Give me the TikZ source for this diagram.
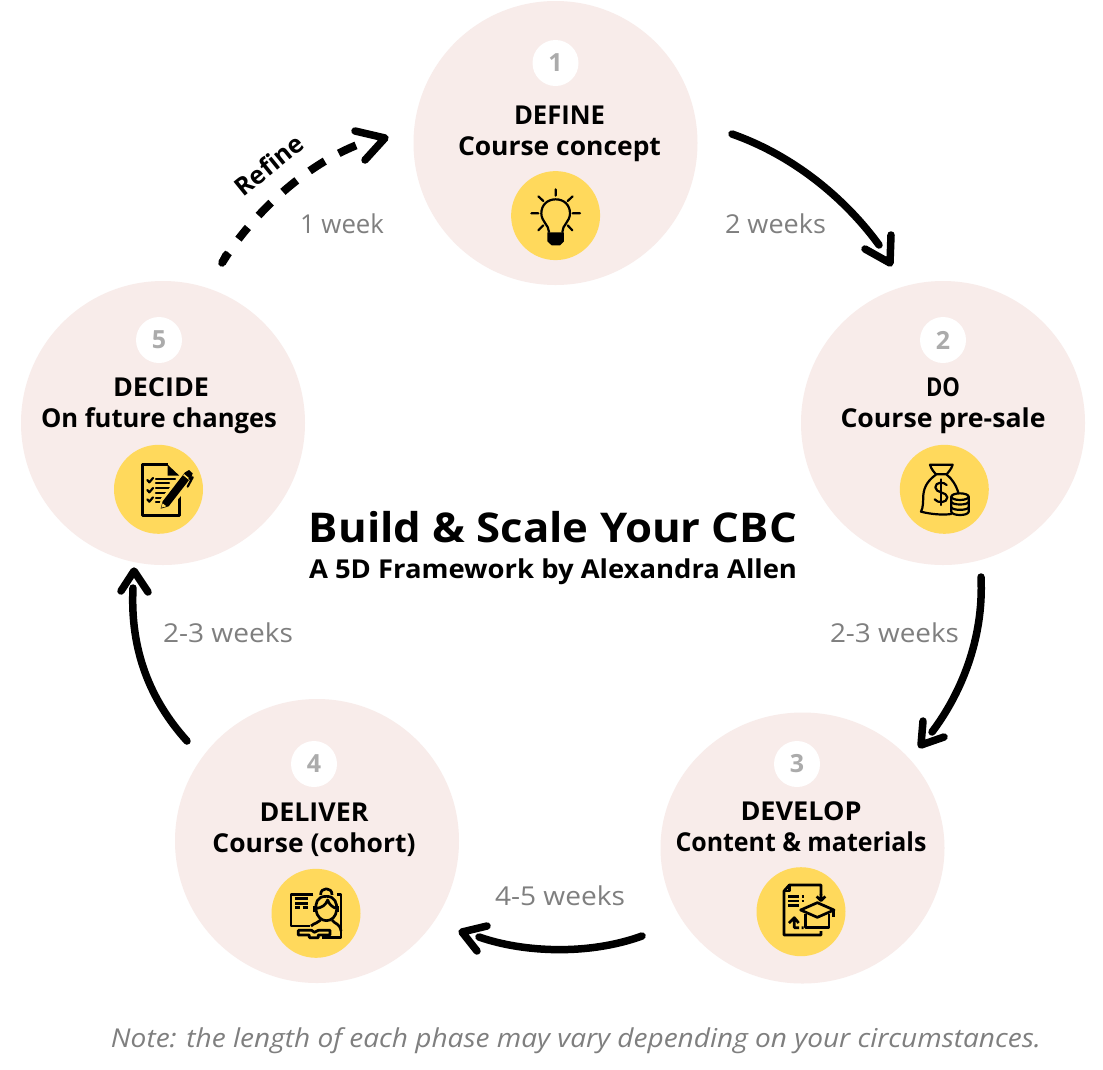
\documentclass[tikz,border=0pt]{standalone}
\usepackage{fontspec}
\setmainfont{Open Sans}
\usetikzlibrary{arrows.meta,shapes.geometric}
\newcommand{\fitw}[2]{\resizebox{#1pt}{\height}{#2}}
\definecolor{blush}{HTML}{F8ECEA}
\definecolor{sun}{HTML}{FFD95C}
\definecolor{ink}{HTML}{000000}
\definecolor{weekgray}{HTML}{7F7F7F}
\definecolor{numgray}{HTML}{ABABAB}
\tikzset{
  x=1pt,y=-1pt,
  phase/.style={circle,fill=blush,minimum size=284pt,inner sep=0pt},
  phaseflat/.style={ellipse,fill=blush,minimum width=284pt,minimum height=271pt,inner sep=0pt},
  badge/.style={circle,fill=white,minimum size=46pt,inner sep=0pt,text=numgray,font=\fontsize{25}{25}\selectfont\bfseries},
  iconbg/.style={circle,fill=sun,minimum size=89pt,inner sep=0pt},
  phasetext/.style={align=center,text=black,font=\fontsize{26}{31}\selectfont\bfseries},
  weeks/.style={text=weekgray,font=\fontsize{26}{26}\selectfont},
  flow/.style={line width=7.5pt,ink,line cap=round,line join=round},
  icon/.style={line width=2.2pt,ink,line cap=round,line join=round},
  thick icon/.style={line width=2.7pt,ink,line join=round},
  zoomed/.style={shift={#1},x=0.3333pt,y=-0.3333pt},
}
\begin{document}
\begin{tikzpicture}
\useasboundingbox (0,0) rectangle (1103,1069);
\fill[white] (0,0) rectangle (1103,1069);

% phases
\node[phase] (p1) at (555.5,143) {};
\node[phase] (p2) at (943,423) {};
\node[phaseflat] (p3) at (802.5,848) {};
\node[phase] (p4) at (317,841) {};
\node[phase] (p5) at (163,423) {};

\node[badge] (n1) at (555.5,63) {1};
\node[badge] (n2) at (943,340) {2};
\node[badge] (n3) at (797,764) {3};
\node[badge] (n4) at (314,764) {4};
\node[badge] (n5) at (159,340) {5};

\node[phasetext] (t1) at (559.5,134) {\fitw{91}{DEFINE}\hspace{14pt}\\\fitw{203}{Course concept}};
\node[phasetext] (t2) at (943,405.5) {\fitw{34}{DO}\\\fitw{205}{Course pre-sale}};
\node[phasetext] (t3) at (801,827) {\fitw{121}{DEVELOP}\hspace{4pt}\\\fitw{251}{Content \& materials}};
\node[phasetext] (t4) at (314,829.5) {\fitw{109}{DELIVER}\hspace{6pt}\\\fitw{203}{Course (cohort)}};
\node[phasetext] (t5) at (159,405.5) {\hspace{4pt}\fitw{96}{DECIDE}\\\fitw{236}{On future changes}};

\node[iconbg] (i1) at (555.6,215.6) {};
\node[iconbg] (i2) at (944.3,489.3) {};
\node[iconbg] (i3) at (801,911.7) {};
\node[iconbg] (i4) at (316,913.3) {};
\node[iconbg] (i5) at (158.5,489.3) {};

% bulb
\begin{scope}[zoomed={(490,150)}]
  \draw[icon] (197,118)--(197,137) (145,139)--(160,153) (248,139)--(233,153)
    (124,190)--(145,190) (248,190)--(270,190) (145,241)--(160,226) (247,241)--(233,226);
  \draw[icon] (177,246) .. controls (177,225) and (154,215) .. (154,190)
     .. controls (154,165) and (172,148) .. (197,148)
     .. controls (222,148) and (240,165) .. (240,190)
     .. controls (240,215) and (217,225) .. (217,246);
  \fill[ink] (172,247)--(222,247)--(222,274)--(210,286)--(185,286)--(172,274)--cycle;
\end{scope}

% money bag
\begin{scope}[zoomed={(880,430)}]
  \draw[icon] (150,104)--(218,104) .. controls (214,118) and (205,126) .. (200,133)
     -- (168,133) .. controls (162,126) and (154,118) .. (150,104);
  \draw[icon] (168,134) .. controls (145,150) and (132,170) .. (130,195)
     .. controls (129,215) and (130,232) .. (123,245)
     .. controls (150,252) and (185,256) .. (214,252);
  \draw[icon] (200,134) .. controls (215,145) and (228,165) .. (235,188);
  \draw[icon] (200,165) .. controls (192,155) and (166,155) .. (166,172)
     .. controls (166,190) and (202,185) .. (202,202)
     .. controls (202,220) and (172,220) .. (164,208);
  \draw[icon] (183,148)--(183,225);
  \draw[icon] (240,200) ellipse [x radius=26,y radius=10];
  \draw[icon] (214,200)--(214,246) .. controls (218,258) and (262,258) .. (266,246)--(266,200);
  \draw[icon] (214,216) .. controls (218,226) and (262,226) .. (266,216);
  \draw[icon] (214,232) .. controls (218,242) and (262,242) .. (266,232);
\end{scope}

% document and cap
\begin{scope}[zoomed={(735,855)}]
  \draw[thick icon] (258,120)--(258,90)--(163,90)--(147,108)--(147,240)--(258,240)--(258,228);
  \draw[thick icon] (163,90)--(163,108)--(147,108);
  \draw[thick icon] (258,118)--(258,136) (245,124)--(258,137)--(271,124);
  \draw[thick icon] (160,125)--(192,125) (160,138)--(192,138) (160,152)--(192,152)
     (200,125)--(207,125) (200,138)--(207,138);
  \draw[thick icon] (197,165)--(247,143)--(297,165)--(247,187)--cycle;
  \draw[thick icon] (212,178)--(212,218)--(282,218)--(282,178);
  \draw[thick icon] (295,165)--(295,186);
  \draw[thick icon] (178,190)--(178,218)--(192,218) (162,204)--(178,188)--(191,204) (200,218)--(206,218);
\end{scope}

% teacher
\begin{scope}[zoomed={(250,855)}]
  \draw[thick icon] (190,118)--(123,118)--(123,213)--(180,213);
  \draw[thick icon] (262,118)--(273,118)--(273,248)--(215,248);
  \draw[thick icon] (135,131)--(175,131) (135,145)--(175,145) (135,158)--(150,158) (158,158)--(175,158);
  \draw[thick icon] (229,124) .. controls (200,124) and (196,145) .. (198,165)
     .. controls (200,185) and (215,197) .. (229,197)
     .. controls (245,197) and (258,185) .. (260,165)
     .. controls (262,145) and (255,124) .. (229,124);
  \draw[thick icon] (212,120) .. controls (210,95) and (248,95) .. (246,120);
  \draw[thick icon] (200,160) .. controls (215,158) and (228,150) .. (233,135)
     .. controls (238,150) and (248,156) .. (258,160);
  \draw[thick icon] (194,152)--(194,170) (264,152)--(264,170);
  \draw[thick icon] (183,213) .. controls (195,202) and (205,205) .. (212,195);
  \draw[thick icon] (246,195) .. controls (255,208) and (270,205) .. (273,228);
  \draw[thick icon] (145,226)--(185,226)--(193,232)--(205,226)--(240,226)--(240,240)--(205,240)--(205,248)--(178,248)--(178,240)--(145,240)--cycle;
\end{scope}

% checklist
\begin{scope}[zoomed={(95,430)}]
  \draw[thick icon] (218,104)--(142,104)--(142,256)--(253,256)--(253,195);
  \fill[ink] (218,104)--(218,137)--(253,137)--cycle;
  \draw[icon] (157,150)--(163,157)--(174,144) (157,180)--(163,187)--(174,174) (157,208)--(163,215)--(174,202);
  \draw[icon] (183,148)--(240,148) (183,160)--(222,160) (183,175)--(222,175)
     (183,188)--(218,188) (183,203)--(205,203) (183,215)--(200,215);
  \fill[sun] (190,240)--(198,205)--(270,118)--(300,130)--(300,150)--(225,235)--cycle;
  \fill[ink] (197,236)--(203,214)--(270,127)--(282,120)--(293,130)--(290,140)--(221,229)--cycle;
  \draw[sun,line width=1.5pt] (266,134)--(283,148);
  \fill[sun] (199,233)--(203,220)--(214,229)--cycle;
  \draw[icon] (283,146)--(293,142)--(278,170);
\end{scope}

% connectors
\coordinate (a1s) at (732,134);
\coordinate (a1h) at (879,245);
\coordinate (a1e) at (890,263);
\coordinate (a1b) at (865,249);
\coordinate (a1c) at (891,235);
\draw[flow] (a1s) .. controls (800,158) and (850,205) .. (a1h);
\draw[flow] (a1b)--(a1e)--(a1c);

\coordinate (a2s) at (981,577);
\coordinate (a2h) at (932,732);
\coordinate (a2e) at (921,745);
\coordinate (a2b) at (923,721);
\coordinate (a2c) at (944,737);
\draw[flow] (a2s) .. controls (984,640) and (960,695) .. (a2h);
\draw[flow] (a2b)--(a2e)--(a2c);

\coordinate (a3s) at (642,936);
\coordinate (a3h) at (479,937);
\coordinate (a3e) at (462,932);
\coordinate (a3b) at (487,926);
\coordinate (a3c) at (477,951);
\draw[flow] (a3s) .. controls (590,955) and (525,953) .. (a3h);
\draw[flow] (a3b)--(a3e)--(a3c);

\coordinate (a4s) at (187,741);
\coordinate (a4h) at (133,588);
\coordinate (a4e) at (134,571);
\coordinate (a4b) at (121,591);
\coordinate (a4c) at (148,592);
\draw[flow] (a4s) .. controls (150,700) and (130,650) .. (a4h);
\draw[flow] (a4b)--(a4e)--(a4c);

\coordinate (a5s) at (222,263);
\coordinate (a5t) at (226,255);
\coordinate (a5h) at (357,145);
\coordinate (a5e) at (385,138);
\coordinate (a5b) at (355,131);
\coordinate (a5c) at (365,160);
\draw[flow] (a5s)--(a5t);
\draw[line width=8pt,ink,dash pattern=on 12pt off 17pt on 15pt off 16pt on 18pt off 16pt on 18pt off 16pt on 18pt off 16pt on 19pt off 16pt] (a5s) .. controls (245,225) and (295,170) .. (a5h);
\draw[flow] (a5b)--(a5e)--(a5c);

% labels
\node[weeks] (w1) at (342,224) {\fitw{84}{1 week}};
\node[weeks] (w2) at (775.5,224) {\fitw{101}{2 weeks}};
\node[weeks] (w3) at (894.5,633) {\fitw{129}{2-3 weeks}};
\node[weeks] (w4) at (560,896) {\fitw{130}{4-5 weeks}};
\node[weeks] (w5) at (228,633) {\fitw{130}{2-3 weeks}};
\node[rotate=39,text=black,font=\fontsize{25}{25}\selectfont\bfseries] (ref) at (269,165) {\fitw{80}{Refine}};

\node[text=black,font=\fontsize{41}{41}\selectfont\bfseries] (title) at (553,527) {\fitw{488}{Build \& Scale Your CBC}};
\node[text=black,font=\fontsize{26}{26}\selectfont\bfseries] (sub) at (553,572) {\fitw{488}{A 5D Framework by Alexandra Allen}};
\node[text=weekgray,font=\fontsize{26}{26}\selectfont\itshape] (note) at (576,1041) {\fitw{930}{Note: the length of each phase may vary depending on your circumstances.}};
\end{tikzpicture}
\end{document}
